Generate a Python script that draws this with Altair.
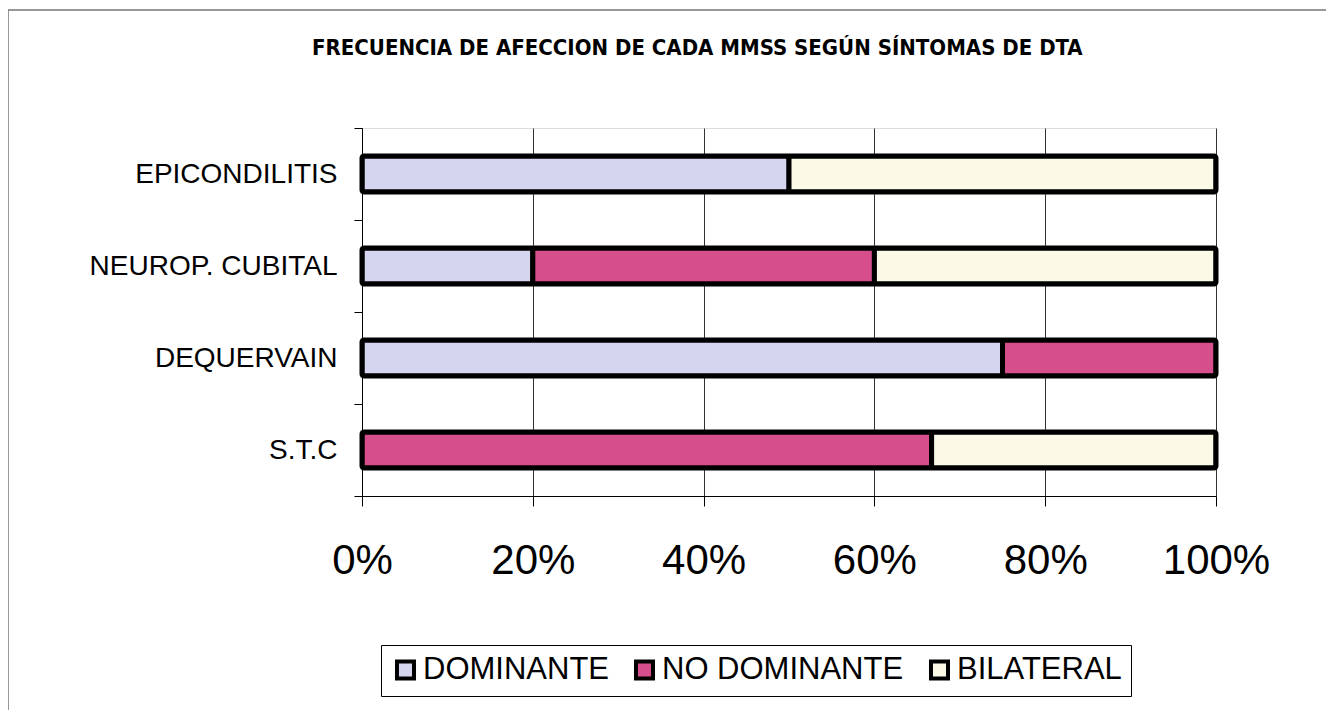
import altair as alt
import pandas as pd

title_text = "FRECUENCIA DE AFECCION DE CADA MMSS SEGÚN SÍNTOMAS DE DTA"
categories = ["EPICONDILITIS", "NEUROP. CUBITAL", "DEQUERVAIN", "S.T.C"]
series = ["DOMINANTE", "NO DOMINANTE", "BILATERAL"]
dominante = [50, 20, 75, 0]
no_dominante = [0, 40, 25, 66.7]
bilateral = [50, 40, 0, 33.3]
colors = ["#d5d5ef", "#d64f8c", "#fafae6"]

rows = []
for i, c in enumerate(categories):
    for j, (s, vals) in enumerate(zip(series, [dominante, no_dominante, bilateral])):
        rows.append({"cat": c, "serie": s, "value": vals[i], "ord": j})
df = pd.DataFrame(rows)

W, H = 854, 368
PL, PT = 354, 120

bars = alt.Chart(df).transform_filter("datum.value > 0").mark_bar(
    stroke="black", strokeWidth=5, size=36, strokeJoin="round", cornerRadius=2
).encode(
    y=alt.Y("cat:N", sort=categories, title=None,
            scale=alt.Scale(paddingInner=0, paddingOuter=0),
            axis=alt.Axis(tickBand="extent", labelFont="Liberation Sans", labelFontSize=28,
                          labelLimit=500, labelColor="black", labelPadding=17, tickSize=8,
                          tickColor="black", domainColor="black", grid=False)),
    x=alt.X("value:Q", stack="normalize", title=None,
            scale=alt.Scale(domain=[0, 1], nice=False),
            axis=alt.Axis(format="%", values=[0, 0.2, 0.4, 0.6, 0.8, 1.0], labelFont="Liberation Sans",
                          labelFontSize=42, labelColor="black", labelPadding=34, tickSize=10,
                          tickColor="black", domainColor="black", grid=True, gridColor="#333333",
                          gridWidth=1, gridOpacity=1, labelFlush=False)),
    color=alt.Color("serie:N", sort=series, scale=alt.Scale(domain=series, range=colors),
                    legend=alt.Legend(title=None, orient="none", legendX=19, legendY=517,
                                      direction="horizontal", symbolType="square", symbolSize=290,
                                      symbolStrokeColor="black", symbolStrokeWidth=4,
                                      labelFont="Liberation Sans", labelFontSize=31, labelColor="black",
                                      labelLimit=500, labelOffset=2, columnPadding=18,
                                      strokeColor="black", padding=9, symbolOpacity=1)),
    order=alt.Order("ord:Q"),
)

frame = alt.Chart(pd.DataFrame({"a": [0]})).mark_rect(
    fill=None, stroke="#777777", strokeWidth=1.5
).encode(
    x=alt.value(-PL), x2=alt.value(W + 200), y=alt.value(-PT + 2), y2=alt.value(H + 300)
)

title = alt.Chart(pd.DataFrame({"t": [title_text]})).mark_text(
    align="left", baseline="middle",
    font="Liberation Sans Narrow, DejaVu Sans Condensed, Liberation Sans",
    fontSize=22, fontWeight="bold", color="black"
).encode(text="t:N", x=alt.value(-50), y=alt.value(-80))

chart = alt.layer(frame, title, bars).properties(
    width=W, height=H,
    autosize=alt.AutoSizeParams(type="none"),
    padding={"left": PL, "top": PT, "right": 110, "bottom": 214},
).configure_view(fill="#d6d6d6", stroke=None).configure(background="white")

chart.save("out.html", embed_options={"renderer": "svg", "actions": False})
